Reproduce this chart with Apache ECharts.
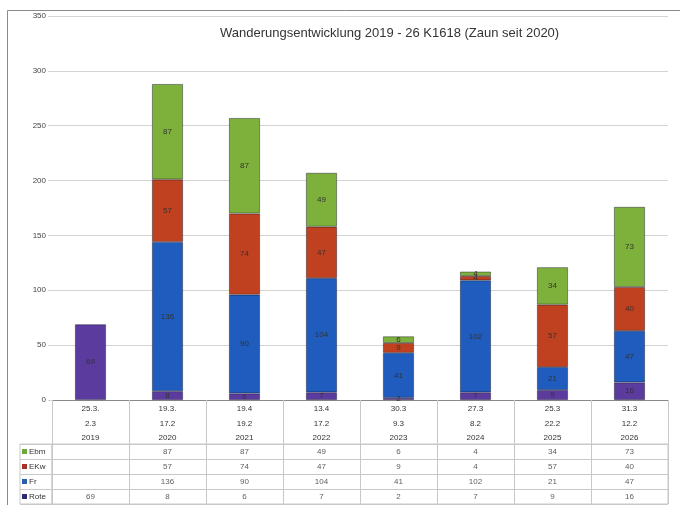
<!DOCTYPE html>
<html>
<head>
<meta charset="utf-8">
<script src="https://cdn.jsdelivr.net/npm/echarts@6/dist/echarts.min.js"></script>
<style>html,body{margin:0;padding:0;background:#fff}#c{width:680px;height:505px}</style>
</head>
<body>
<div id="c"></div>
<script>
const categories = ['2019','2020','2021','2022','2023','2024','2025','2026'];
const dateLine1 = ['25.3.','19.3.','19.4','13.4','30.3','27.3','25.3','31.3'];
const dateLine2 = ['2.3','17.2','19.2','17.2','9.3','8.2','22.2','12.2'];
const rote = [69, 8, 6, 7, 2, 7, 9, 16];
const fr   = [null, 136, 90, 104, 41, 102, 21, 47];
const ekw  = [null, 57, 74, 47, 9, 4, 57, 40];
const ebm  = [null, 87, 87, 49, 6, 4, 34, 73];
const tableRows = ['Ebm','EKw','Fr','Rote'];
const yTicks = [0, 50, 100, 150, 200, 250, 300, 350];

const colors = { Rote: '#5b3b9e', Fr: '#1f5cbd', EKw: '#c0411f', Ebm: '#7eb13c' };
const legendColors = { Ebm: '#6fa83a', EKw: '#a8322a', Fr: '#2a5fb0', Rote: '#2d2b70' };
const rowData = { Ebm: ebm, EKw: ekw, Fr: fr, Rote: rote };

const FONT = 'Liberation Sans';

function barSeries(name, data) {
  return {
    name, type: 'bar', stack: 'total', data,
    xAxisIndex: 0, yAxisIndex: 0,
    barWidth: 31,
    itemStyle: { color: colors[name], borderColor: 'rgba(20,20,40,0.55)', borderWidth: 0.8 },
    label: { show: true, position: 'inside', fontSize: 8, color: '#333', fontFamily: FONT,
      formatter: p => (p.value == null ? '' : p.value) }
  };
}

const tableData = [];
tableRows.forEach(r => {
  rowData[r].forEach((v, i) => { if (v != null) tableData.push([categories[i], r, v]); });
});

const rich = { t: { fontSize: 8, color: '#333', fontFamily: FONT, padding: [0,0,0,2] } };
tableRows.forEach(r => { rich['s' + r] = { width: 5, height: 5, backgroundColor: legendColors[r] }; });

const chart = echarts.init(document.getElementById('c'));
chart.setOption({
  animation: false,
  backgroundColor: '#fff',
  title: {
    text: 'Wanderungsentwicklung 2019 - 26 K1618 (Zaun seit 2020)',
    left: 215, top: 22,
    textStyle: { fontSize: 13, fontWeight: 'normal', color: '#333', fontFamily: FONT }
  },
  graphic: [{
    type: 'rect', silent: true, z: 100,
    shape: { x: 7.5, y: 10.5, width: 690, height: 510 },
    style: { fill: 'none', stroke: '#8a8a8a', lineWidth: 1 }
  }],
  grid: [
    { left: 52, right: 12, top: 16, height: 384 },
    { left: 52, right: 12, top: 444, height: 60, show: true, borderColor: '#c8c8c8', borderWidth: 1 },
    { left: 20, width: 32, top: 444, height: 60, show: true, borderColor: '#c8c8c8', borderWidth: 1 }
  ],
  xAxis: [
    {
      gridIndex: 0, type: 'category', data: categories, boundaryGap: true,
      axisLine: { show: true, lineStyle: { color: '#8a8a8a', width: 1 } },
      axisTick: { show: true, interval: 0, length: 44, lineStyle: { color: '#c8c8c8' } },
      axisLabel: {
        interval: 0, margin: 2, fontSize: 8, color: '#333', fontFamily: FONT, lineHeight: 14.5,
        formatter: (v, i) => dateLine1[i] + '\n' + dateLine2[i] + '\n' + v
      },
      splitLine: { show: false }
    },
    {
      gridIndex: 1, type: 'category', data: categories, boundaryGap: true,
      axisLine: { show: false }, axisTick: { show: false }, axisLabel: { show: false },
      splitLine: { show: true, interval: 0, lineStyle: { color: '#c8c8c8' } }
    },
    {
      gridIndex: 2, type: 'category', data: [''], boundaryGap: true,
      axisLine: { show: false }, axisTick: { show: false }, axisLabel: { show: false },
      splitLine: { show: false }
    }
  ],
  yAxis: [
    {
      gridIndex: 0, type: 'value', min: 0, max: 350, interval: 50,
      axisLine: { show: false },
      axisTick: { show: true, length: 4, lineStyle: { color: '#d4d4d4' } },
      axisLabel: { fontSize: 8, color: '#444', fontFamily: FONT, margin: 6,
        formatter: v => (yTicks.indexOf(v) >= 0 ? String(v) : '') },
      splitLine: { show: true, lineStyle: { color: '#d4d4d4', width: 1 } }
    },
    {
      gridIndex: 1, type: 'category', data: tableRows, inverse: true,
      axisLine: { show: true, lineStyle: { color: '#c8c8c8' } },
      axisTick: { show: false }, axisLabel: { show: false },
      splitLine: { show: true, interval: 0, lineStyle: { color: '#c8c8c8' } }
    },
    {
      gridIndex: 2, type: 'category', data: tableRows, inverse: true,
      axisLine: { show: false }, axisTick: { show: false },
      axisLabel: { show: true, inside: true, margin: 2, interval: 0,
        formatter: v => '{s' + v + '|}{t|' + v + '}', rich },
      splitLine: { show: true, interval: 0, lineStyle: { color: '#c8c8c8' } }
    }
  ],
  series: [
    barSeries('Rote', rote),
    barSeries('Fr', fr),
    barSeries('EKw', ekw),
    barSeries('Ebm', ebm),
    {
      type: 'scatter', xAxisIndex: 1, yAxisIndex: 1, data: tableData,
      symbol: 'circle', symbolSize: 1, itemStyle: { color: 'rgba(0,0,0,0)' },
      label: { show: true, position: 'inside', fontSize: 8, color: '#333', fontFamily: FONT,
        formatter: p => String(p.value[2]) },
      silent: true
    }
  ]
});
</script>
</body>
</html>
